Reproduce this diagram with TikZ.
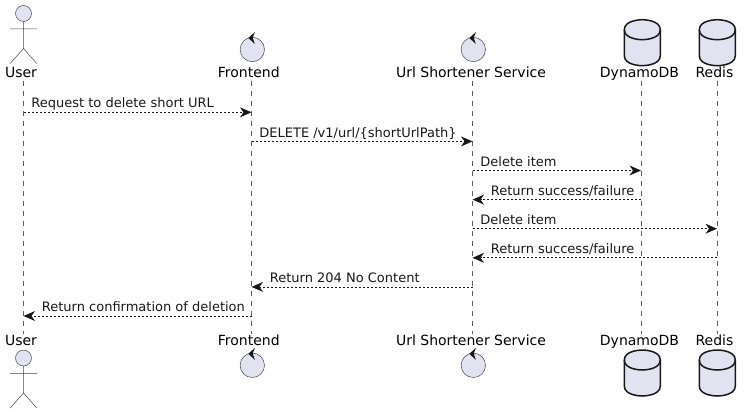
\documentclass[tikz,border=0pt]{standalone}
\usepackage{fontspec}
\setmainfont{DejaVu Sans}
\usetikzlibrary{arrows.meta}
\definecolor{partfill}{HTML}{E2E2F0}
\definecolor{partline}{HTML}{181818}
\tikzset{
	headlabel/.style={inner sep=0pt, anchor=base, font=\fontsize{14}{16}\selectfont},
	msglabel/.style={inner sep=0pt, font=\fontsize{13}{15}\selectfont},
	lifeline/.style={partline!70, line width=0.5pt, dash pattern=on 5pt off 5pt},
	msg/.style={partline, line width=0.8pt, dash pattern=on 2pt off 2pt, -{Stealth[length=11.5pt, width=10pt, inset=3.5pt, line width=0pt]}},
	actorpart/.pic={
		\draw[partline!80, line width=0.5pt, fill=partfill] (0,0) circle (8);
		\draw[partline!80, line width=0.5pt] (0,8) -- (0,35) (-13.3,15.5) -- (13.3,15.5) (-13.3,50) -- (0,35) -- (13.3,50);
	},
	controlpart/.pic={
		\draw[partline!80, line width=0.5pt, fill=partfill] (0,0) circle (12.2);
		\fill[partline] (-4,-11.5) -- (2.7,-17.5) -- (0.4,-11.8) -- (2.5,-5.5) -- cycle;
	},
	dbpart/.pic={
		\draw[partline, line width=1.5pt, fill=partfill] (-18,10) .. controls (-18,0) and (0,0) .. (0,0) .. controls (0,0) and (18,0) .. (18,10) -- (18,36) .. controls (18,46) and (0,46) .. (0,46) .. controls (0,46) and (-18,46) .. (-18,36) -- cycle;
		\draw[partline, line width=1.5pt] (-18,10) .. controls (-18,20) and (0,20) .. (0,20) .. controls (0,20) and (18,20) .. (18,10);
	},
}
\begin{document}
\begin{tikzpicture}[x=1pt, y=-1pt, line join=round]
	\path[use as bounding box] (0,0) rectangle (751,414);
	
	% Coordinates on the lifelines, one row per message
	\foreach \name/\xpos in {user/23.5, front/251.5, url/472.5, dynamo/641, redis/717}{
		\coordinate (\name-top) at (\xpos,81);
		\coordinate (\name-bot) at (\xpos,334);
		\foreach \row/\ypos in {1/112.3, 2/141.4, 3/170.5, 4/199.6, 5/228.7, 6/257.8, 7/286.9, 8/316}{
			\coordinate (\name-\row) at (\xpos,\ypos);
		}
		\draw[lifeline] (\name-top) -- (\name-bot);
	}
	
	% Participant names, top and bottom
	\node[headlabel] (userT) at (21,77.5) {User};
	\node[headlabel] (frontT) at (248.8,77.5) {Frontend};
	\node[headlabel] (urlT) at (471,77.5) {Url Shortener Service};
	\node[headlabel] (dynamoT) at (639.5,77.5) {DynamoDB};
	\node[headlabel] (redisT) at (714.5,77.5) {Redis};
	\node[headlabel] (userB) at (21,345.5) {User};
	\node[headlabel] (frontB) at (248.8,345.5) {Frontend};
	\node[headlabel] (urlB) at (471,345.5) {Url Shortener Service};
	\node[headlabel] (dynamoB) at (639.5,345.5) {DynamoDB};
	\node[headlabel] (redisB) at (714.5,345.5) {Redis};
	
	% Participant shapes
	\pic at (23.5,13.5) {actorpart};
	\pic at (23.5,358) {actorpart};
	\pic at (252.3,49.5) {controlpart};
	\pic at (252.3,365.3) {controlpart};
	\pic at (473.3,49.5) {controlpart};
	\pic at (473.3,365.3) {controlpart};
	\pic at (642.3,19.7) {dbpart};
	\pic at (642.3,350) {dbpart};
	\pic at (717.3,19.7) {dbpart};
	\pic at (717.3,350) {dbpart};
	
	% Messages
	\draw[msg] (user-1) -- (front-1) node[msglabel, pos=0, anchor=base west, xshift=7.5pt, yshift=4.3pt] (m1) {Request to delete short URL};
	\draw[msg] (front-2) -- (url-2) node[msglabel, pos=0, anchor=base west, xshift=7.5pt, yshift=4.3pt] (m2) {DELETE /v1/url/\{shortUrlPath\}};
	\draw[msg] (url-3) -- (dynamo-3) node[msglabel, pos=0, anchor=base west, xshift=7.5pt, yshift=4.3pt] (m3) {Delete item};
	\draw[msg] (dynamo-4) -- (url-4) node[msglabel, pos=1, anchor=base west, xshift=18pt, yshift=4.3pt] (m4) {Return success/failure};
	\draw[msg] (url-5) -- (redis-5) node[msglabel, pos=0, anchor=base west, xshift=7.5pt, yshift=4.3pt] (m5) {Delete item};
	\draw[msg] (redis-6) -- (url-6) node[msglabel, pos=1, anchor=base west, xshift=18pt, yshift=4.3pt] (m6) {Return success/failure};
	\draw[msg] (url-7) -- (front-7) node[msglabel, pos=1, anchor=base west, xshift=18pt, yshift=4.3pt] (m7) {Return 204 No Content};
	\draw[msg] (front-8) -- (user-8) node[msglabel, pos=1, anchor=base west, xshift=18pt, yshift=4.3pt] (m8) {Return confirmation of deletion};
	
\end{tikzpicture}
\end{document}
